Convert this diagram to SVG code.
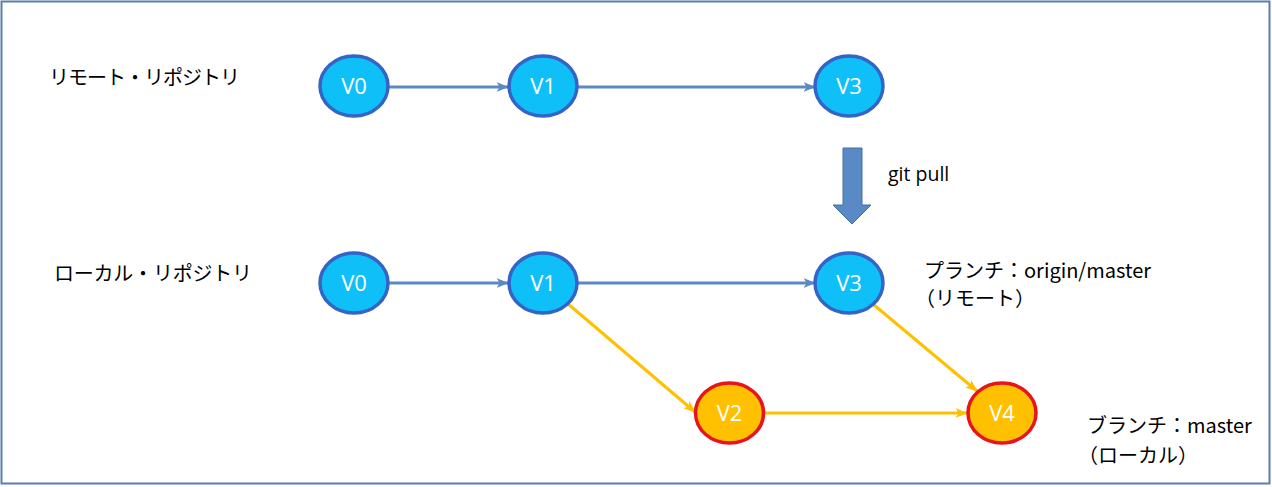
<svg xmlns="http://www.w3.org/2000/svg" width="1272" height="487" viewBox="0 0 1272 487">
<style>
.frame{fill:#ffffff;stroke:#5b7fa8;stroke-width:2}
.blue ellipse{fill:#0fc0f8;stroke:#3563c6;stroke-width:3.5}
.orange ellipse{fill:#ffc000;stroke:#e8141c;stroke-width:3.5}
.nl{font-family:"Open Sans","Noto Sans",sans-serif;font-size:22px;fill:#ffffff;text-anchor:middle}
.lbl{font-family:"Noto Sans CJK JP","Noto Sans",sans-serif;font-size:20px;fill:#000000}
.cb{stroke:#5a8ac6;stroke-width:3;fill:none}
.cy{stroke:#ffc000;stroke-width:3;fill:none}
</style>
<defs>
<marker id="ab" viewBox="0 0 10 8" refX="9.5" refY="4" markerWidth="4" markerHeight="3.2" orient="auto" markerUnits="strokeWidth">
<path d="M0,0 L10,4 L0,8 L2.5,4 z" fill="#5a8ac6"/>
</marker>
<marker id="ay" viewBox="0 0 10 8" refX="9.5" refY="4" markerWidth="4" markerHeight="3.2" orient="auto" markerUnits="strokeWidth">
<path d="M0,0 L10,4 L0,8 L2.5,4 z" fill="#ffc000"/>
</marker>
</defs>
<rect class="frame" x="1.5" y="1.5" width="1268" height="482"/>

<g id="labels">
<text class="lbl" x="49" y="85" textLength="191">リモート・リポジトリ</text>
<text class="lbl" x="54" y="281" textLength="198">ローカル・リポジトリ</text>
<text class="lbl" x="924" y="278">プランチ：origin/master</text>
<text class="lbl" x="915" y="306">（リモート）</text>
<text class="lbl" x="1087" y="433">ブランチ：master</text>
<text class="lbl" x="1078" y="463">（ローカル）</text>
</g>

<g id="connectors">
<line class="cb" x1="389" y1="87" x2="508" y2="87" marker-end="url(#ab)"/>
<line class="cb" x1="578" y1="87" x2="815" y2="87" marker-end="url(#ab)"/>
<line class="cb" x1="389" y1="283" x2="508" y2="283" marker-end="url(#ab)"/>
<line class="cb" x1="578" y1="283" x2="815" y2="283" marker-end="url(#ab)"/>
<line class="cy" x1="567" y1="303" x2="695" y2="412" marker-end="url(#ay)"/>
<line class="cy" x1="874" y1="305" x2="977" y2="391" marker-end="url(#ay)"/>
<line class="cy" x1="764" y1="413" x2="967" y2="413" marker-end="url(#ay)"/>
</g>

<g id="pull">
<polygon points="843,148 862,148 862,205 871,205 852,224 833,205 843,205" fill="#5a8ac6" stroke="#41709f" stroke-width="1"/>
<text x="888" y="181" font-family="Open Sans, Noto Sans, sans-serif" font-size="19.5px" fill="#000000">git pull</text>
</g>

<g id="r-v0" class="blue"><ellipse cx="354" cy="86" rx="34" ry="30"/><text class="nl" x="354" y="94">V0</text></g>
<g id="r-v1" class="blue"><ellipse cx="543" cy="86" rx="34" ry="30"/><text class="nl" x="543" y="94">V1</text></g>
<g id="r-v3" class="blue"><ellipse cx="849" cy="86" rx="34" ry="30"/><text class="nl" x="849" y="94">V3</text></g>
<g id="l-v0" class="blue"><ellipse cx="354" cy="283" rx="34" ry="30"/><text class="nl" x="354" y="291">V0</text></g>
<g id="l-v1" class="blue"><ellipse cx="543" cy="283" rx="34" ry="30"/><text class="nl" x="543" y="291">V1</text></g>
<g id="l-v3" class="blue"><ellipse cx="849" cy="283" rx="34" ry="30"/><text class="nl" x="849" y="291">V3</text></g>
<g id="l-v2" class="orange"><ellipse cx="729.5" cy="413" rx="34" ry="30"/><text class="nl" x="729.5" y="421">V2</text></g>
<g id="l-v4" class="orange"><ellipse cx="1002" cy="413" rx="34" ry="30"/><text class="nl" x="1002" y="421">V4</text></g>
</svg>
